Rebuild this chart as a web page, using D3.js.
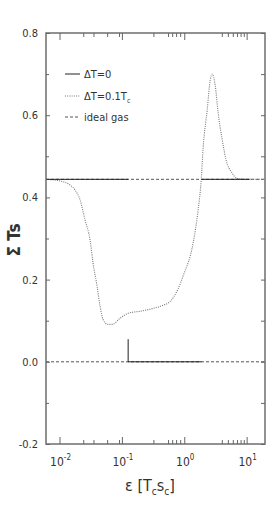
<!DOCTYPE html>
<html>
<head>
<meta charset="utf-8">
<script src="https://cdn.jsdelivr.net/npm/d3@7"></script>
<style>
  body { margin: 0; background: #fff; }
  svg text { font-family: "Liberation Sans Narrow", "DejaVu Sans Condensed", "Liberation Sans", sans-serif; fill: #333; }
</style>
</head>
<body>
<div id="chart"></div>
<script>
// energy axis eps [T_c s_c], log scale
var epsDotted = [0.00607, 0.0102, 0.01476, 0.01775, 0.02135, 0.02567, 0.0309, 0.0345, 0.040, 0.0447, 0.0499, 0.060, 0.0696, 0.0936, 0.126, 0.196, 0.284, 0.41, 0.594, 0.798, 0.96, 1.39, 1.67, 1.87, 2.01, 2.33, 2.61, 2.81, 3.13, 3.50, 4.06, 4.70, 5.87, 7.06, 9.5, 20];
var sumDotted = [0.444, 0.440, 0.430, 0.418, 0.394, 0.345, 0.296, 0.240, 0.184, 0.135, 0.103, 0.091, 0.091, 0.106, 0.118, 0.123, 0.128, 0.135, 0.147, 0.178, 0.209, 0.290, 0.370, 0.443, 0.522, 0.612, 0.686, 0.700, 0.673, 0.605, 0.540, 0.490, 0.459, 0.446, 0.444, 0.444];

// Delta T = 0 : three pieces
var epsSolidA = [0.00607, 0.126];
var sumSolidA = [0.444, 0.444];
var epsSolidB = [0.126, 0.126, 1.89];
var sumSolidB = [0.055, 0.0, 0.0];
var epsSolidC = [1.89, 11.2];
var sumSolidC = [0.444, 0.444];

// ideal gas levels
var idealLevels = [0.444, 0.0];

var yMajor = [0.8, 0.6, 0.4, 0.2, 0.0, -0.2];
var yMinor = [0.7, 0.5, 0.3, 0.1, -0.1];
var xMajor = [0.01, 0.1, 1, 10];
var xMajorExp = ["-2", "-1", "0", "1"];
var xMinor = [0.024, 0.035, 0.058, 0.09, 0.32, 0.55, 0.64, 0.74, 0.86, 4, 5, 6, 7, 8, 9];
var legendNames = ["\u0394T=0", "\u0394T=0.1T", "ideal gas"];

var W = 277, H = 526;
var margin = {top: 33, right: 12, bottom: 82, left: 46};
var iw = W - margin.left - margin.right,
    ih = H - margin.top - margin.bottom;

var svg = d3.select("#chart").append("svg")
    .attr("width", W)
    .attr("height", H);

var g = svg.append("g")
    .attr("transform", "translate(" + margin.left + "," + margin.top + ")");

var x = d3.scaleLog().domain([0.00607, 19.7]).range([0, iw]);
var y = d3.scaleLinear().domain([-0.2, 0.8]).range([ih, 0]);

function zipPts(xs, ys) {
  return xs.map(function(v, i) { return [v, ys[i]]; });
}
var line = d3.line()
    .x(function(d) { return x(d[0]); })
    .y(function(d) { return y(d[1]); });
var curve = d3.line()
    .x(function(d) { return x(d[0]); })
    .y(function(d) { return y(d[1]); })
    .curve(d3.curveMonotoneX);

// ideal gas (dashed)
idealLevels.forEach(function(v) {
  g.append("path")
    .attr("d", line([[x.domain()[0], v], [x.domain()[1], v]]))
    .attr("fill", "none")
    .attr("stroke", "#555")
    .attr("stroke-width", 1)
    .attr("stroke-dasharray", "3,2");
});

// Delta T = 0.1 Tc (dotted)
g.append("path")
  .attr("d", curve(zipPts(epsDotted, sumDotted)))
  .attr("fill", "none")
  .attr("stroke", "#777")
  .attr("stroke-width", 1.1)
  .attr("stroke-dasharray", "1,1.2");

// Delta T = 0 (solid)
[[epsSolidA, sumSolidA], [epsSolidB, sumSolidB], [epsSolidC, sumSolidC]].forEach(function(p) {
  g.append("path")
    .attr("d", line(zipPts(p[0], p[1])))
    .attr("fill", "none")
    .attr("stroke", "#222")
    .attr("stroke-width", 1);
});

// frame
g.append("rect")
  .attr("width", iw).attr("height", ih)
  .attr("fill", "none")
  .attr("stroke", "#6e6e6e")
  .attr("stroke-width", 1.5);

// y ticks (inward, both sides)
var yAxisL = d3.axisLeft(y).tickValues(yMajor).tickSize(-4).tickPadding(8)
    .tickFormat(d3.format(".1f"));
var gyl = g.append("g").call(yAxisL);
gyl.select(".domain").remove();
gyl.selectAll("line").attr("stroke", "#666");
gyl.selectAll("text").attr("font-size", 11).text(function(d) { return d3.format(".1f")(d).replace("\u2212", "-"); });

g.append("g").call(d3.axisLeft(y).tickValues(yMinor).tickSize(-3).tickFormat(""))
  .call(function(s) { s.select(".domain").remove(); s.selectAll("line").attr("stroke", "#666"); });
g.append("g").attr("transform", "translate(" + iw + ",0)")
  .call(d3.axisRight(y).tickValues(yMajor.concat(yMinor)).tickSize(-4).tickFormat(""))
  .call(function(s) { s.select(".domain").remove(); s.selectAll("line").attr("stroke", "#666"); });

// x ticks (inward, bottom and top)
[[d3.axisBottom, ih, 1], [d3.axisTop, 0, -1]].forEach(function(a) {
  var major = g.append("g").attr("transform", "translate(0," + a[1] + ")")
    .call(a[0](x).tickValues(xMajor).tickSize(-7).tickFormat(""));
  major.select(".domain").remove();
  major.selectAll("line").attr("stroke", "#666");
  var minor = g.append("g").attr("transform", "translate(0," + a[1] + ")")
    .call(a[0](x).tickValues(xMinor).tickSize(-4).tickFormat(""));
  minor.select(".domain").remove();
  minor.selectAll("line").attr("stroke", "#666");
});

// x tick labels 10^n
var xl = g.append("g").selectAll("text").data(xMajor).enter().append("text")
    .attr("x", function(d) { return x(d) + 1; })
    .attr("y", ih + 22)
    .attr("text-anchor", "middle")
    .attr("font-size", 12);
xl.append("tspan").text("10");
xl.append("tspan").attr("dy", -6).attr("font-size", 8)
  .text(function(d, i) { return xMajorExp[i]; });

// axis titles
svg.append("text")
  .attr("transform", "translate(20,240) rotate(-90)")
  .attr("text-anchor", "middle")
  .attr("font-size", 17)
  .attr("font-weight", "bold")
  .attr("font-family", "Liberation Sans, sans-serif")
  .text("\u03a3 Ts");

var xt = svg.append("text")
  .attr("x", 150).attr("y", 491)
  .attr("text-anchor", "middle")
  .attr("font-size", 16);
xt.append("tspan").text("\u03b5 [T");
xt.append("tspan").attr("dy", 4).attr("font-size", 10).text("c");
xt.append("tspan").attr("dy", -4).text("s");
xt.append("tspan").attr("dy", 4).attr("font-size", 10).text("c");
xt.append("tspan").attr("dy", -4).text("]");

// legend
var legStyles = [
  {stroke: "#222", dash: null},
  {stroke: "#777", dash: "1,1.2"},
  {stroke: "#555", dash: "3,2"}
];
var legY = [74, 96, 117];
var leg = svg.append("g").selectAll("g").data(legendNames).enter().append("g")
    .attr("transform", function(d, i) { return "translate(65," + legY[i] + ")"; });
leg.append("line")
  .attr("x1", 0).attr("x2", 15)
  .attr("stroke", function(d, i) { return legStyles[i].stroke; })
  .attr("stroke-dasharray", function(d, i) { return legStyles[i].dash; })
  .attr("stroke-width", 1);
var lt = leg.append("text")
  .attr("x", 19).attr("y", 4)
  .attr("font-size", 11);
lt.append("tspan").text(function(d) { return d; });
lt.filter(function(d, i) { return i === 1; })
  .append("tspan").attr("dy", 3).attr("font-size", 7).text("c");
</script>
</body>
</html>
